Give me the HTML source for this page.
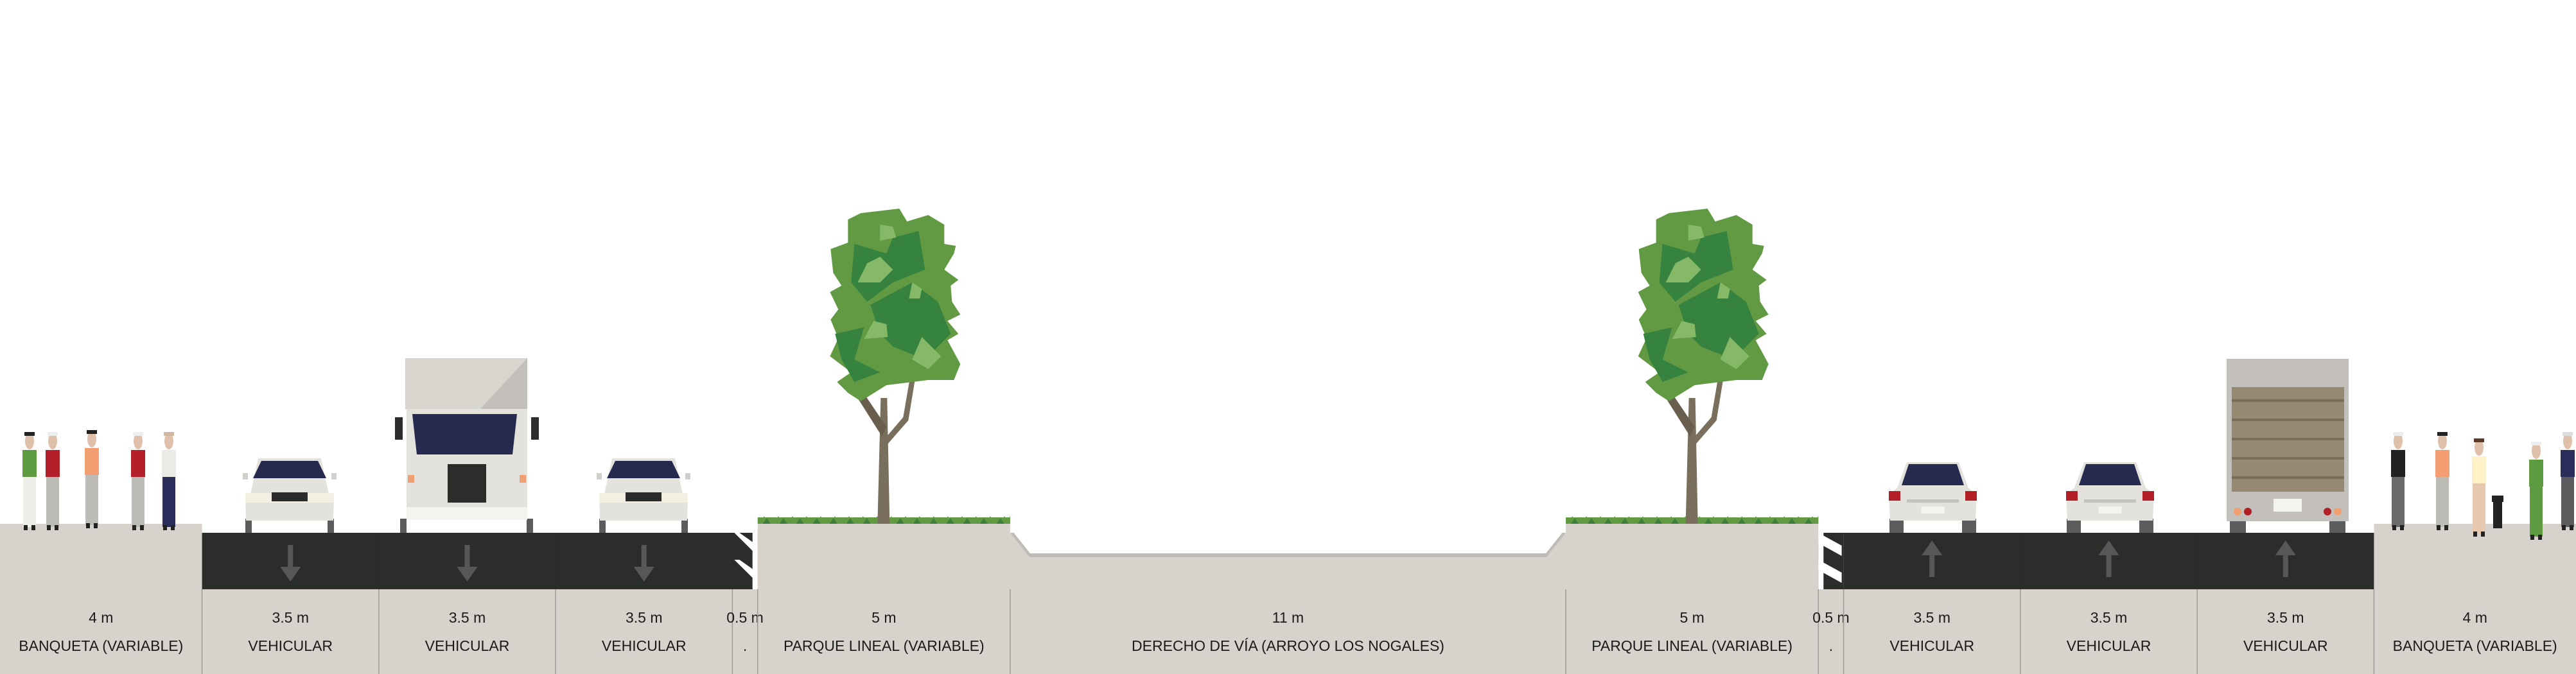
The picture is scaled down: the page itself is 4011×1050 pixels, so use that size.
<!DOCTYPE html>
<html><head><meta charset="utf-8">
<style>
html,body{margin:0;padding:0;background:#fff;}
svg{display:block;}
text{font-family:"Liberation Sans",sans-serif;fill:#1a1a1a;}
</style></head>
<body>
<svg id="scene" width="4011" height="1050" viewBox="0 0 4011 1050" xmlns="http://www.w3.org/2000/svg">
<g id="ground"></g>
<g id="objects"></g>
<g id="labels"></g>
</svg>
<script>
// segment data
const segTypes = ["sidewalk","lane-down","lane-down","lane-down","buffer","park","channel","park","buffer","lane-up","lane-up","lane-up","sidewalk"];
const segWidths = [4,3.5,3.5,3.5,0.5,5,11,5,0.5,3.5,3.5,3.5,4];
const widthLabels = ["4 m","3.5 m","3.5 m","3.5 m","0.5 m","5 m","11 m","5 m","0.5 m","3.5 m","3.5 m","3.5 m","4 m"];
const nameLabels = ["BANQUETA (VARIABLE)","VEHICULAR","VEHICULAR","VEHICULAR",".","PARQUE LINEAL (VARIABLE)","DERECHO DE VÍA (ARROYO LOS NOGALES)","PARQUE LINEAL (VARIABLE)",".","VEHICULAR","VEHICULAR","VEHICULAR","BANQUETA (VARIABLE)"];

const NS="http://www.w3.org/2000/svg";
const W=4011;
const total=segWidths.reduce((a,b)=>a+b,0);
const xs=m=>m*W/total;
function mk(parent,tag,attrs){const e=document.createElementNS(NS,tag);for(const k in attrs)e.setAttribute(k,attrs[k]);parent.appendChild(e);return e;}
const G=document.getElementById('ground'),O=document.getElementById('objects'),L=document.getElementById('labels');
const GRAY="#d7d3cc",ROAD="#2b2d2a";

let band=mk(G,'rect',{x:0,y:918,width:W,height:132,fill:GRAY});



let acc=0;
segWidths.forEach((w,i)=>{
  const x0=xs(acc),x1=xs(acc+w),cx=(x0+x1)/2,t=segTypes[i];
  const g=mk(G,'g',{});
  
  
  if(t==='sidewalk'){mk(g,'rect',{x:x0,y:816,width:x1-x0,height:102,fill:GRAY});}
  if(t.startsWith('lane')){
    mk(g,'rect',{x:x0,y:830,width:x1-x0+0.5,height:88,fill:ROAD});
    const a=mk(O,'g',{fill:"#575757"});
    
    
    if(t==='lane-down'){mk(a,'rect',{x:cx-4,y:849,width:8,height:38});mk(a,'polygon',{points:`${cx-16},883 ${cx+16},883 ${cx},906`});}
    else{mk(a,'rect',{x:cx-4,y:861,width:8,height:38});mk(a,'polygon',{points:`${cx-16},865 ${cx+16},865 ${cx},842`});}
  }
  if(t==='buffer'){
    mk(g,'rect',{x:x0,y:830,width:x1-x0,height:88,fill:ROAD});
    const left=i<6;
    if(left){
      mk(g,'polygon',{points:`${x0+3},830 ${x0+11},830 ${x1},850 ${x1},866 `,fill:"#fff"});
      mk(g,'polygon',{points:`${x0+3},872 ${x0+11},872 ${x1},892 ${x1},908`,fill:"#fff"});
      mk(g,'rect',{x:x1-8,y:830,width:8,height:88,fill:"#fff"});
    }else{
      mk(g,'polygon',{points:`${x0},830 ${x0},846 ${x1-3},866 ${x1-3},850`,fill:"#fff"});
      mk(g,'polygon',{points:`${x0},872 ${x0},888 ${x1-3},908 ${x1-3},892`,fill:"#fff"});
      mk(g,'rect',{x:x0,y:830,width:8,height:88,fill:"#fff"});
    }
  }
  if(t==='park'){
    mk(g,'rect',{x:x0,y:816,width:x1-x0,height:102,fill:GRAY});
    let pts=`${x0},816 `;
    for(let x=x0;x<x1;x+=22){pts+=`${x+5},816 ${x+10},804 ${x+16},813 `;}
    pts+=`${x1},803 ${x1},816`;
    mk(g,'rect',{x:x0,y:806,width:x1-x0,height:10,fill:"#629a43"});
    mk(g,'polygon',{points:pts,fill:"#629a43"});
    for(let x=x0+8;x<x1;x+=26){mk(g,'polygon',{points:`${x},816 ${x+6},807 ${x+12},816`,fill:"#3a7f3c"});}
    drawTree(cx);
  }
  if(t==='channel'){
    mk(g,'rect',{x:x0,y:830,width:x1-x0,height:88,fill:GRAY});
    mk(g,'polygon',{points:`${x0},830 ${x0+30},868 ${x1-30},868 ${x1},830`,fill:"#bfbbb6"});
    mk(g,'polygon',{points:`${x0},828 ${x0+4},828 ${x0+31},862 ${x1-31},862 ${x1-4},828 ${x1},828 ${x1},800 ${x0},800`,fill:"#fff"});
  }
  acc+=w;
});

acc=0;
segWidths.forEach((w,i)=>{
  const x0=xs(acc),x1=xs(acc+w),cx=(x0+x1)/2;
  if(i>0){const d=mk(L,'line',{x1:x0,y1:918,x2:x0,y2:1050,stroke:"#9d9a95","stroke-width":1.5});
    
    }
  const tw=mk(L,'text',{x:cx,y:970,"text-anchor":"middle","font-size":23});
  tw.textContent=widthLabels[i];
  
  
  const tn=mk(L,'text',{x:cx,y:1014,"text-anchor":"middle","font-size":23});
  tn.textContent=nameLabels[i];
  
  
  acc+=w;
});

function drawTree(cx){
  const g=mk(O,'g',{});
  
  
  mk(g,'polygon',{points:`${cx-10},816 ${cx+9},816 ${cx+5},620 ${cx-5},620`,fill:"#7a6e5c"});
  mk(g,'polygon',{points:`${cx-3},680 ${cx-60},590 ${cx-50},585 ${cx+4},665`,fill:"#6a5e4e"});
  mk(g,'polygon',{points:`${cx},685 ${cx+30},650 ${cx+48},545 ${cx+56},545 ${cx+38},655 ${cx+3},695`,fill:"#7a6e5c"});
  const c=cx-106;
  mk(g,'polygon',{points:`${c+70},332 ${c+130},325 ${c+142},345 ${c+175},335 ${c+200},350 ${c+200},380 ${c+218},383 ${c+215},395 ${c+200},420 ${c+222},436 ${c+210},445 ${c+212},470 ${c+225},490 ${c+205},500 ${c+222},520 ${c+205},530 ${c+225},567 ${c+215},592 ${c+175},592 ${c+110},600 ${c+70},625 ${c+50},612 ${c+33},595 ${c+55},580 ${c+22},555 ${c+35},527 ${c+23},498 ${c+35},482 ${c+22},455 ${c+40},445 ${c+27},425 ${c+23},388 ${c+50},378 ${c+50},342`,fill:"#629a43"});
  mk(g,'polygon',{points:`${c+60},380 ${c+110},395 ${c+120},370 ${c+160},360 ${c+170},420 ${c+120},440 ${c+80},470 ${c+55},440`,fill:"#36823f"});
  mk(g,'polygon',{points:`${c+85},475 ${c+150},440 ${c+190},470 ${c+210},520 ${c+170},560 ${c+120},540 ${c+100},520`,fill:"#36823f"});
  mk(g,'polygon',{points:`${c+30},520 ${c+75},510 ${c+60},560 ${c+100},580 ${c+60},595 ${c+40},560`,fill:"#36823f"});
  mk(g,'polygon',{points:`${c+80},410 ${c+100},400 ${c+120},420 ${c+100},440 ${c+65},440`,fill:"#85b967"});
  mk(g,'polygon',{points:`${c+100},350 ${c+120},353 ${c+125},370 ${c+100},375`,fill:"#85b967"});
  mk(g,'polygon',{points:`${c+90},500 ${c+110},505 ${c+112},525 ${c+75},528`,fill:"#85b967"});
  mk(g,'polygon',{points:`${c+165},525 ${c+195},555 ${c+175},575 ${c+150},560`,fill:"#85b967"});
  mk(g,'polygon',{points:`${c+150},440 ${c+165},450 ${c+162},465 ${c+145},465`,fill:"#85b967"});
}

function carFront(x,w){
  const g=mk(O,'g',{});
  
  
  mk(g,'rect',{x:x+2,y:808,width:10,height:22,fill:"#5b5c5e"});
  mk(g,'rect',{x:x+w-12,y:808,width:10,height:22,fill:"#5b5c5e"});
  mk(g,'polygon',{points:`${x+10},770 ${x+22},714 ${x+w-22},714 ${x+w-10},770 ${x+w-2},770 ${x+w-3},811 ${x+3},811 ${x+2},770`,fill:"#e3e2dd"});
  mk(g,'polygon',{points:`${x+27},718 ${x+w-27},718 ${x+w-14},745 ${x+14},745`,fill:"#262a4f"});
  mk(g,'rect',{x:x+2,y:768,width:w-4,height:15,fill:"#f3efe2"});
  mk(g,'rect',{x:x+w/2-28,y:767,width:56,height:14,fill:"#2b2b2b"});
  mk(g,'rect',{x:x-2,y:737,width:8,height:10,fill:"#d0cfca"});
  mk(g,'rect',{x:x+w-6,y:737,width:8,height:10,fill:"#d0cfca"});
}
function carRear(x,w){
  const g=mk(O,'g',{});
  
  
  mk(g,'rect',{x:x+3,y:808,width:22,height:22,fill:"#5b5c5e"});
  mk(g,'rect',{x:x+w-25,y:808,width:22,height:22,fill:"#5b5c5e"});
  mk(g,'polygon',{points:`${x+30},720 ${x+w-30},720 ${x+w-15},760 ${x+w-2},770 ${x+w-4},811 ${x+4},811 ${x+2},770 ${x+15},760`,fill:"#e3e2dd"});
  mk(g,'polygon',{points:`${x+33},723 ${x+w-33},723 ${x+w-22},756 ${x+22},756`,fill:"#262a4f"});
  mk(g,'rect',{x:x+2,y:765,width:18,height:15,fill:"#b22027"});
  mk(g,'rect',{x:x+w-20,y:765,width:18,height:15,fill:"#b22027"});
  mk(g,'rect',{x:x+30,y:778,width:w-60,height:5,fill:"#c4c2bd"});
  mk(g,'rect',{x:x+w/2-18,y:789,width:36,height:11,fill:"#f3f3ef"});
}
function truckFront(x){
  const g=mk(O,'g',{});
  
  
  mk(g,'rect',{x:x+16,y:558,width:190,height:80,fill:"#d8d5cf"});
  mk(g,'polygon',{points:`${x+206},558 ${x+206},640 ${x+130},640`,fill:"#c3c0bc"});
  mk(g,'rect',{x:x+8,y:808,width:10,height:22,fill:"#5b5c5e"});
  mk(g,'rect',{x:x+205,y:808,width:10,height:22,fill:"#5b5c5e"});
  mk(g,'rect',{x:x+18,y:637,width:188,height:173,fill:"#e3e2dd"});
  mk(g,'rect',{x:x+18,y:790,width:188,height:20,fill:"#f3f3ef"});
  mk(g,'polygon',{points:`${x+27},645 ${x+190},645 ${x+183},708 ${x+34},708`,fill:"#262a4f"});
  mk(g,'rect',{x:x+82,y:723,width:60,height:60,fill:"#2b2d2a"});
  mk(g,'rect',{x:x,y:650,width:12,height:35,fill:"#2b2d2a"});
  mk(g,'rect',{x:x+212,y:650,width:12,height:35,fill:"#2b2d2a"});
  mk(g,'rect',{x:x+20,y:740,width:10,height:12,fill:"#f0a070"});
  mk(g,'rect',{x:x+194,y:740,width:10,height:12,fill:"#f0a070"});
}
function truckRear(x){
  const g=mk(O,'g',{});
  
  
  mk(g,'rect',{x:x+5,y:810,width:25,height:20,fill:"#5b5c5e"});
  mk(g,'rect',{x:x+160,y:810,width:25,height:20,fill:"#5b5c5e"});
  mk(g,'rect',{x:x,y:559,width:190,height:253,fill:"#c3c0bc"});
  mk(g,'rect',{x:x+8,y:603,width:175,height:163,fill:"#958a71"});
  for(let k=0;k<5;k++)mk(g,'rect',{x:x+8,y:622+k*30,width:175,height:4,fill:"#786e59"});
  mk(g,'rect',{x:x+73,y:777,width:44,height:20,fill:"#f3f3ef"});
  mk(g,'circle',{cx:x+17,cy:797,r:6,fill:"#f0a070"});mk(g,'circle',{cx:x+33,cy:797,r:6,fill:"#b22027"});
  mk(g,'circle',{cx:x+157,cy:797,r:6,fill:"#b22027"});mk(g,'circle',{cx:x+173,cy:797,r:6,fill:"#f0a070"});
}
function person(cx,top,body,legs,hair){
  const g=mk(O,'g',{});
  
  
  mk(g,'ellipse',{cx:cx,cy:top+14,rx:7,ry:13,fill:"#dfc1ab"});
  mk(g,'rect',{x:cx-8,y:top,width:16,height:6,fill:hair});
  mk(g,'rect',{x:cx-11,y:top+28,width:22,height:42,fill:body});
  mk(g,'rect',{x:cx-10,y:top+70,width:20,height:78,fill:legs});
  mk(g,'rect',{x:cx-9,y:top+145,width:6,height:8,fill:"#222"});
  mk(g,'rect',{x:cx+3,y:top+145,width:6,height:8,fill:"#222"});
}
carFront(380,142);truckFront(615);carFront(931,142);
carRear(2939,141);carRear(3215,141);truckRear(3467);
person(46,673,"#5e9a3f","#f0eee8","#222");person(82,673,"#b3202a","#bdbbb6","#eee");
person(143,670,"#f29d72","#bdbbb6","#222");person(215,673,"#b3202a","#bdbbb6","#eee");person(263,673,"#eceae5","#2b2d5a","#d0b8a0");
person(3734,673,"#222","#6a6b6d","#eee");person(3803,673,"#f29d72","#bdbbb6","#222");person(3860,683,"#fff1c8","#e7c9b0","#5a3a2a");
person(3949,688,"#5e9a3f","#5e9a3f","#eee");person(3998,673,"#2b2d5a","#5b5c5e","#ddd");
const dog=mk(O,'g',{fill:"#222"});


mk(dog,'rect',{x:3882,y:775,width:14,height:48});mk(dog,'rect',{x:3880,y:772,width:18,height:10});
</script>
</body></html>
